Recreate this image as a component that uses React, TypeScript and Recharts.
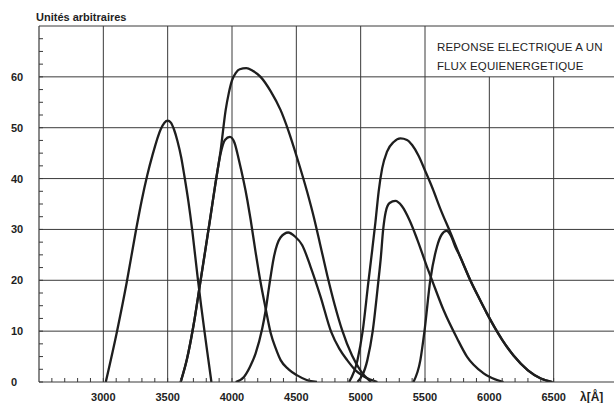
import React from 'react';
import { LineChart, Line, XAxis, YAxis, ReferenceLine } from 'recharts';

// wavelength (Å) , response (arbitrary units)
const curveUV = [
  [3019, 0], [3105, 9.8], [3182, 19.6], [3252, 29.6], [3299, 35.8], [3340, 40.5],
  [3382, 44.6], [3446, 49.7], [3475, 51], [3500, 51.4], [3525, 51], [3550, 49.6],
  [3576, 47.4], [3605, 44.2], [3630, 40.5], [3661, 35.5], [3692, 29.6], [3731, 21],
  [3760, 15], [3788, 9.6], [3815, 4.6], [3840, 0],
];
const curveViolet = [
  [3601, 0], [3650, 4.5], [3700, 11], [3750, 19], [3790, 25.5], [3829, 31.9], [3870, 38.8],
  [3912, 45], [3945, 47.6], [3984, 48.2], [4020, 47], [4054, 43.6], [4119, 35.8],
  [4145, 31.9], [4183, 25.6], [4222, 19.6], [4261, 14.5], [4300, 9.7], [4340, 6.6],
  [4378, 4.3], [4440, 2.5], [4507, 1.3], [4580, 0.4], [4660, 0],
];
const curveLarge = [
  [3601, 0], [3650, 4.5], [3700, 11], [3750, 19], [3790, 25.5], [3829, 31.9], [3870, 38.8],
  [3912, 45.6], [3951, 53.5], [3975, 56.8], [4000, 59.3], [4030, 60.8], [4060, 61.5],
  [4111, 61.7], [4160, 61.2], [4222, 60], [4300, 57.2], [4377, 53.5], [4440, 49.3],
  [4507, 44], [4585, 37.3], [4636, 32.4], [4683, 27.3], [4740, 21], [4800, 15],
  [4856, 10.2], [4933, 5.2], [5000, 2.2], [5080, 0],
];
const curveBlue = [
  [4028, 0], [4093, 1], [4140, 3], [4183, 5.6], [4235, 10.5], [4261, 14], [4287, 18.5],
  [4325, 24.5], [4377, 28.4], [4437, 29.4], [4490, 28.6], [4546, 26.9], [4610, 22.7],
  [4688, 16.8], [4770, 9.9], [4835, 6.5], [4895, 4.3], [4960, 2.3], [5025, 1.1], [5130, 0],
];
const curveGreen = [
  [4910, 0], [4975, 4.3], [5015, 9.9], [5060, 19.7], [5090, 26], [5115, 31.5],
  [5140, 37.5], [5167, 42], [5205, 45.3], [5257, 47.2], [5309, 47.9], [5360, 47.6],
  [5400, 46.6], [5450, 44.5], [5500, 41.6], [5560, 38], [5620, 34], [5697, 29.4],
  [5774, 24.6], [5852, 20], [5920, 16.5], [5981, 13.5], [6040, 10.8], [6100, 8.3],
  [6188, 5.2], [6300, 2.3], [6400, 0.7], [6490, 0],
];
const curveYellow = [
  [4975, 0], [5052, 4.3], [5093, 9.9], [5137, 19.7], [5155, 24], [5175, 30],
  [5195, 33.5], [5225, 35.2], [5270, 35.6], [5320, 34.6], [5380, 31.8], [5440, 28],
  [5516, 22.6], [5555, 20], [5645, 14.1], [5749, 8.6], [5826, 5], [5950, 1.8], [6110, 0],
];
const curveRed = [
  [5410, 0], [5464, 4.3], [5495, 9.8], [5541, 20], [5593, 26.6], [5630, 29],
  [5667, 29.7], [5700, 28.8], [5735, 26.6], [5774, 24.6], [5852, 20], [5920, 16.5],
  [5981, 13.5], [6040, 10.8], [6100, 8.3], [6188, 5.2], [6300, 2.3], [6400, 0.7], [6490, 0],
];

const seriesList = [curveUV, curveViolet, curveLarge, curveBlue, curveGreen, curveYellow, curveRed];

const yTicks = [0, 2.5, 5, 7.5, 10, 12.5, 15, 17.5, 20, 22.5, 25, 27.5, 30, 32.5, 35, 37.5, 40,
  42.5, 45, 47.5, 50, 52.5, 55, 57.5, 60, 62.5, 65, 67.5];
const yLabels = [0, 10, 20, 30, 40, 50, 60];
const xTicks = [2600, 2700, 2800, 2900, 3000, 3100, 3200, 3300, 3400, 3500, 3600, 3700, 3800,
  3900, 4000, 4100, 4200, 4300, 4400, 4500, 4600, 4700, 4800, 4900, 5000, 5100, 5200, 5300,
  5400, 5500, 5600, 5700, 5800, 5900, 6000, 6100, 6200, 6300, 6400, 6500];
const xLabels = [3000, 3500, 4000, 4500, 5000, 5500, 6000, 6500];
const xGridFull = [3000, 3500, 4000, 4500, 5000, 5500];
const xGridShort = [6000, 6500];
const yGrid = [10, 20, 30, 40, 50, 60, 70];

const INK = '#1e1e1e';
const GRID = '#3a3a3a';
const FONT = '"Liberation Sans", Arial, sans-serif';

const toPoints = (arr: number[][]) => arr.map(([x, y]) => ({ x, y }));

const YTick = (props: any) => {
  const { x, y, payload } = props;
  const v = payload.value;
  return (
    <g>
      <line x1={x} x2={x + 4} y1={y} y2={y} stroke={GRID} strokeWidth={1} />
      {yLabels.includes(v) && (
        <text x={x - 28} y={y} dy="0.36em" textAnchor="start" fontSize={11}
          fontFamily={FONT} fill={INK} fontWeight={600}>{v}</text>
      )}
    </g>
  );
};

const XTick = (props: any) => {
  const { x, y, payload } = props;
  const v = payload.value;
  return (
    <g>
      <line x1={x} x2={x} y1={y} y2={y - 4} stroke={GRID} strokeWidth={1} />
      {xLabels.includes(v) && (
        <text x={x} y={y + 15} dy="0.36em" textAnchor="middle" fontSize={11}
          fontFamily={FONT} fill={INK} fontWeight={600}>{v}</text>
      )}
    </g>
  );
};

export default function App() {
  return (
    <div style={{ position: 'absolute', left: 0, top: 0, width: 614, height: 403, overflow: 'hidden', background: '#fff' }}>
      <LineChart width={618} height={403} margin={{ top: 26, right: 0, bottom: 0, left: 0 }}>
        <XAxis dataKey="x" type="number" domain={[2500, 7000]} ticks={xTicks} interval={0}
          tickSize={0} tickMargin={0} tick={<XTick />} height={21}
          axisLine={{ stroke: GRID, strokeWidth: 1.2 }} allowDataOverflow />
        <YAxis type="number" domain={[0, 70]} ticks={yTicks} interval={0} width={39}
          tickSize={0} tickMargin={0} tick={<YTick />}
          axisLine={{ stroke: GRID, strokeWidth: 1.2 }} allowDataOverflow />
        {yGrid.map((v) => (
          <ReferenceLine key={'h' + v} y={v} stroke={GRID} strokeWidth={1} ifOverflow="visible" />
        ))}
        {xGridFull.map((v) => (
          <ReferenceLine key={'v' + v} x={v} stroke={GRID} strokeWidth={1} />
        ))}
        {xGridShort.map((v) => (
          <ReferenceLine key={'s' + v} segment={[{ x: v, y: 0 }, { x: v, y: 60 }]} stroke={GRID} strokeWidth={1} />
        ))}
        {seriesList.map((s, i) => (
          <Line key={i} data={toPoints(s)} dataKey="y" type="monotone" stroke={INK}
            strokeWidth={2.3} dot={false} activeDot={false} isAnimationActive={false} />
        ))}
      </LineChart>
      <div style={{ position: 'absolute', left: 36, top: 10, fontFamily: FONT, fontSize: 11, lineHeight: '14px', color: INK, fontWeight: 600 }}>
        Unités arbitraires
      </div>
      <div style={{ position: 'absolute', left: 437, top: 40, fontFamily: FONT, fontSize: 11.5, lineHeight: '14px', color: INK, letterSpacing: 0.15, whiteSpace: 'pre' }}>
        {'REPONSE ELECTRIQUE A UN'}
      </div>
      <div style={{ position: 'absolute', left: 437, top: 59, fontFamily: FONT, fontSize: 11.5, lineHeight: '14px', color: INK, letterSpacing: 0.1, whiteSpace: 'pre' }}>
        {'FLUX EQUIENERGETIQUE'}
      </div>
      <div style={{ position: 'absolute', left: 580, top: 390, fontFamily: FONT, fontSize: 12, lineHeight: '14px', color: INK, fontWeight: 600 }}>
        λ[Å]
      </div>
    </div>
  );
}
